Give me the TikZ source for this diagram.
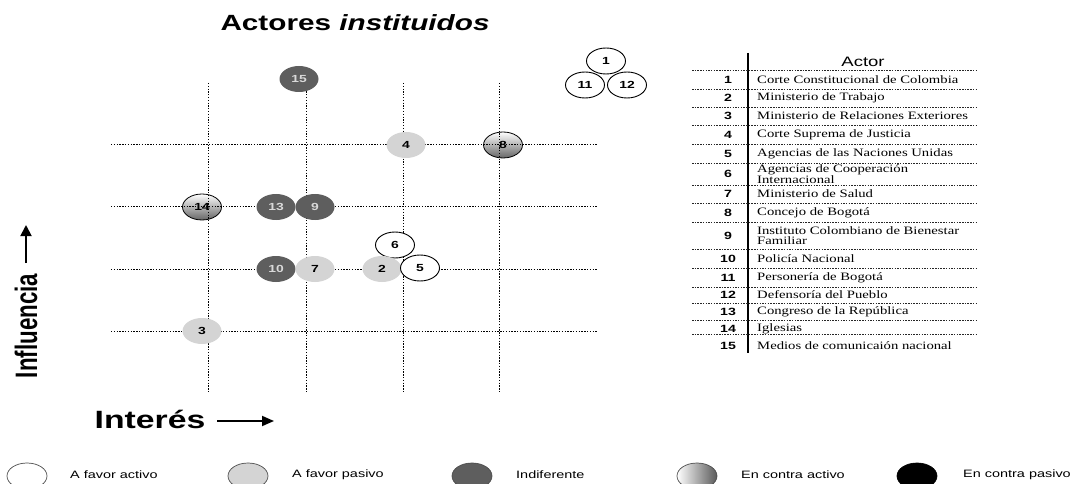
\documentclass[tikz,border=0pt]{standalone}
\usepackage{fontspec}
\setmainfont{Liberation Serif}
\newfontfamily\hv[FakeStretch=1.35]{Liberation Sans}
\newfontfamily\hvc[FakeStretch=0.72]{Liberation Sans}
\newfontfamily\tm[FakeStretch=1.3]{Liberation Serif}
\usetikzlibrary{shapes.geometric,arrows.meta}
\begin{document}
\begin{tikzpicture}[x=1pt,y=-1pt,
 act/.style={ellipse,minimum width=39pt,minimum height=26pt,inner sep=0pt,font=\hv\bfseries\fontsize{10.3}{10}\selectfont},
 fa/.style={act,draw=black,line width=0.9pt,fill=white},
 fp/.style={act,fill=black!17},
 ind/.style={act,fill=black!63,text=black!15},
 ca/.style={act,draw=black,line width=0.8pt,top color=white,bottom color=black!60},
 gridline/.style={line width=1pt,dash pattern=on 1.3pt off 1.5pt,black},
 rowline/.style={line width=0.7pt,dash pattern=on 1.5pt off 1.2pt,black!85},
 num/.style={inner sep=0pt,font=\hv\bfseries\fontsize{10.5}{10}\selectfont},
 lbl/.style={anchor=west,inner sep=0pt,align=left,font=\tm\fontsize{11.3}{10}\selectfont},
 leg/.style={anchor=west,inner sep=0pt,font=\hv\fontsize{10.7}{12}\selectfont},
 legel/.style={ellipse,minimum width=40pt,minimum height=26pt,inner sep=0pt,draw=black!70,line width=0.7pt},
 axarrow/.style={line width=1.8pt,-{Triangle[length=11pt,width=11pt]}},
]
\useasboundingbox (0,0) rectangle (1077,484);

% title
\node (title) at (355,23) {\hv\bfseries\fontsize{22}{24}\selectfont Actores \textit{instituidos}};

% shaded actors under the grid
\node[ca] (a14) at (202,207) {14};
\node[ca] (a8) at (503,145) {8};

% grid
\foreach \x in {208,306,403,499} \draw[gridline] (\x,83) -- (\x,393);
\foreach \y in {145,207,269,331} \draw[gridline] (111,\y) -- (597,\y);

% actors
\node[ind] (a15) at (299,79) {15};
\node[fp] (a4) at (406,145) {4};
\node[ind] (a13) at (276,207) {13};
\node[ind] (a9) at (315,207) {9};
\node[fa] (a6) at (395,245) {6};
\node[ind] (a10) at (276,269) {10};
\node[fp] (a7) at (315,269) {7};
\node[fp] (a2) at (382,269) {2};
\node[fa] (a5) at (420,268) {5};
\node[fp] (a3) at (202,331) {3};
\node[fa] (a11) at (585,85) {11};
\node[fa] (a12) at (627,85) {12};
\node[fa] (a1) at (606,61) {1};

% axes labels
\node[rotate=90,inner sep=0pt,font=\hvc\bfseries\fontsize{31}{31}\selectfont] (infl) at (26,326) {Influencia};
\coordinate (ia0) at (26,263);
\coordinate (ia1) at (26,225);
\draw[axarrow] (ia0) -- (ia1);
\node[inner sep=0pt,font=\hv\bfseries\fontsize{25}{25}\selectfont] (inte) at (150,419) {Interés};
\coordinate (ha0) at (217,421);
\coordinate (ha1) at (274,421);
\draw[axarrow,-{Triangle[length=12pt,width=10pt]}] (ha0) -- (ha1);

% table
\coordinate (vt) at (748,53);
\coordinate (vb) at (748,353);
\draw[line width=1.2pt] (vt) -- (vb);
\node[inner sep=0pt,font=\hv\fontsize{13.7}{14}\selectfont] (hdr) at (863,62) {Actor};
\foreach \y in {70,89,107,125,144,163,185,203,222,249,268,287,303,320,334}
  \draw[rowline] (692,\y) -- (977,\y);
\foreach \n/\y/\t in {1/80/{Corte Constitucional de Colombia},
  2/98/{Ministerio de Trabajo},
  3/116/{Ministerio de Relaciones Exteriores},
  4/134.5/{Corte Suprema de Justicia},
  5/153.5/{Agencias de las Naciones Unidas},
  6/174/{Agencias de Cooperación\\Internacional},
  7/194/{Ministerio de Salud},
  8/212.5/{Concejo de Bogotá},
  9/235.5/{Instituto Colombiano de Bienestar\\Familiar},
  10/258.5/{Policía Nacional},
  11/277.5/{Personería de Bogotá},
  12/295/{Defensoría del Pueblo},
  13/311.5/{Congreso de la República},
  14/329/{Iglesias},
  15/346/{Medios de comunicaión nacional}}{
  \node[num] (n\n) at (728,\y) {\n};
  \node[lbl] (t\n) at (757,\y) {\t};
}

% legend
\node[legel,fill=white] (l1) at (27,476) {};
\node[leg] (lt1) at (70,475) {A favor activo};
\node[legel,fill=black!17] (l2) at (248,476) {};
\node[leg] (lt2) at (292,475) {A favor pasivo};
\node[legel,fill=black!63] (l3) at (472,476) {};
\node[leg] (lt3) at (516,475) {Indiferente};
\node[legel,left color=white,right color=black!65] (l4) at (697,476) {};
\node[leg] (lt4) at (741,475) {En contra activo};
\node[legel,fill=black,draw=black] (l5) at (917,476) {};
\node[leg] (lt5) at (963,475) {En contra pasivo};
\end{tikzpicture}
\end{document}
